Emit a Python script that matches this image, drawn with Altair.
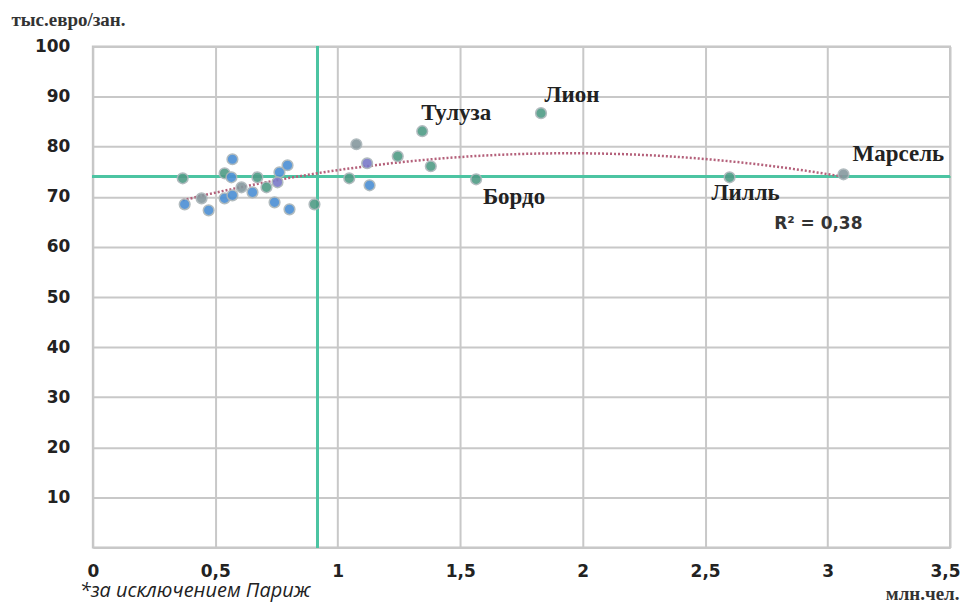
import altair as alt
import pandas as pd

# population, mln people
pop = [0.367, 0.375, 0.444, 0.473, 0.570, 0.538, 0.566, 0.538, 0.570, 0.607,
       0.652, 0.672, 0.709, 0.742, 0.762, 0.754, 0.795, 0.803, 0.905, 1.047,
       1.076, 1.120, 1.130, 1.245, 1.345, 1.380, 1.565, 1.830, 2.600, 3.065]
# productivity, thousand euro per employee
prod = [73.7, 68.5, 69.7, 67.3, 77.5, 74.7, 73.9, 69.7, 70.3, 71.9,
        70.9, 73.9, 71.9, 68.9, 74.9, 72.9, 76.3, 67.5, 68.5, 73.7,
        80.5, 76.7, 72.3, 78.1, 83.1, 76.1, 73.5, 86.7, 73.9, 74.5]
grp = ["t", "b", "g", "b", "b", "t", "b", "b", "b", "g",
       "b", "t", "t", "b", "b", "p", "b", "b", "t", "t",
       "g", "p", "b", "t", "t", "t", "t", "t", "t", "g"]
city = [""] * 24 + ["Тулуза", "", "Бордо", "Лион", "Лилль", "Марсель"]

mean_prod = 74.0
mean_pop = 0.917
x_ticks = [0, 0.5, 1, 1.5, 2, 2.5, 3, 3.5]
y_ticks = [0, 10, 20, 30, 40, 50, 60, 70, 80, 90, 100]
r2_text = "R² = 0,38"
footnote = "*за исключением Париж"
y_title = "тыс.евро/зан."
x_title = "млн.чел."

df = pd.DataFrame({"pop": pop, "prod": prod, "grp": grp, "city": city})
base = alt.Chart(df)

X = alt.X("pop:Q", scale=alt.Scale(domain=[0, 3.5], nice=False, zero=False),
          axis=alt.Axis(values=x_ticks, format="~g",
                        labelExpr="replace(datum.label, '.', ',')",
                        labelFont="DejaVu Sans", labelFontWeight="bold",
                        labelFontSize=17, labelColor="#222", labelPadding=16,
                        labelAlign="center", labelBound=False,
                        labelOffset={"condition": {"test": "datum.value == 3.5", "value": -5},
                                     "value": 0},
                        title=x_title, titleFont="Liberation Serif",
                        titleFontWeight="bold", titleFontSize=19,
                        titleColor="#333", titleAlign="right",
                        titleBaseline="alphabetic", titleX=868, titleY=52))
Y = alt.Y("prod:Q", scale=alt.Scale(domain=[0, 100], nice=False),
          axis=alt.Axis(values=y_ticks,
                        labelExpr="datum.value == 0 ? '' : datum.label",
                        labelFont="DejaVu Sans", labelFontWeight="bold",
                        labelFontSize=17, labelColor="#222", labelPadding=23,
                        title=y_title, titleAngle=0, titleFont="Liberation Serif",
                        titleFontWeight="bold", titleFontSize=19,
                        titleColor="#333", titleAlign="left",
                        titleBaseline="middle", titleX=-82, titleY=-27))

hline = base.mark_rule(color="#4cc4a2", strokeWidth=2.5).encode(y=alt.datum(mean_prod))
vline = base.mark_rule(color="#4cc4a2", strokeWidth=2.5).encode(x=alt.datum(mean_pop))

trend = base.transform_regression("pop", "prod", method="poly", order=2).mark_line(
    strokeDash=[2, 2], strokeWidth=2.5, color="#b4607a").encode(x=X, y=Y)

points = base.mark_circle(size=115, opacity=0.9, stroke="#a9b4b8", strokeWidth=1.5).encode(
    x=X, y=Y,
    color=alt.Color("grp:N", legend=None,
                    scale=alt.Scale(domain=["b", "t", "g", "p"],
                                    range=["#4b8fd4", "#4f9c86", "#86989e", "#7a7ac8"])))

offsets = {"Тулуза": (34, -18), "Лион": (31, -18), "Бордо": (38, 18),
           "Лилль": (16, 16), "Марсель": (55, -20)}
labels = []
for name, (dx, dy) in offsets.items():
    labels.append(base.transform_filter(alt.datum.city == name).mark_text(
        font="Liberation Serif", fontWeight="bold", fontSize=23, color="#222",
        dx=dx, dy=dy, align="center", baseline="middle").encode(x=X, y=Y, text="city:N"))

r2 = alt.Chart(pd.DataFrame({"t": [r2_text]})).mark_text(
    font="DejaVu Sans", fontWeight="bold", fontSize=17, color="#333",
    align="center", baseline="middle").encode(
    x=alt.value(727), y=alt.value(178), text="t:N")
note = alt.Chart(pd.DataFrame({"t": [footnote]})).mark_text(
    font="Open Sans", fontStyle="italic", fontSize=20, color="#222",
    align="left", baseline="alphabetic").encode(
    x=alt.value(-13), y=alt.value(552), text="t:N")

chart = alt.layer(hline, vline, trend, points, *labels, r2, note).properties(
    width=859, height=502,
    padding={"left": 85, "top": 38, "right": 13, "bottom": 56},
    autosize=alt.AutoSizeParams(type="none"),
).configure_view(stroke="#c4c4c4", strokeWidth=2).configure_axis(
    grid=True, gridColor="#c8c8c8", gridWidth=2, domain=False, ticks=False)

chart.save("out.html", embed_options={"renderer": "svg", "actions": False})
